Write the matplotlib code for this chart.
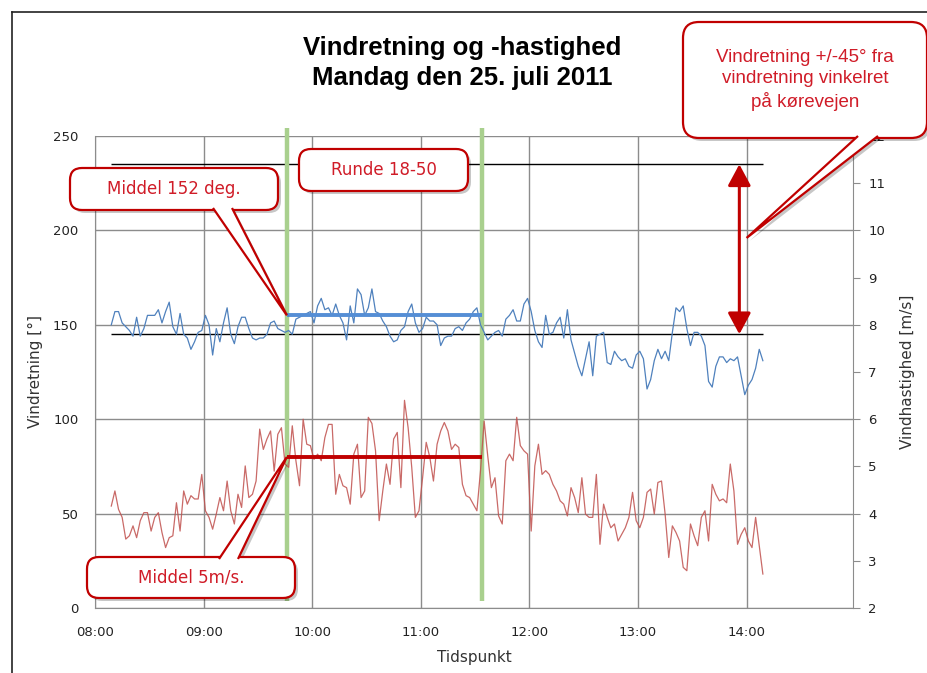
import numpy as np
import matplotlib.pyplot as plt
from matplotlib.patches import FancyBboxPatch, Polygon
from matplotlib.lines import Line2D
from matplotlib.transforms import IdentityTransform

# readings every second minute, 08:09 -> 14:09
t_start = 8 + 9 / 60.
t_step = 2 / 60.

# wind direction [deg] (left axis)
retning = [150, 157, 157, 151, 149, 147, 144, 154, 144, 148,
           155, 155, 155, 158, 151, 157, 162, 149, 145, 156,
           145, 143, 137, 141, 146, 147, 155, 150, 134, 148,
           141, 151, 159, 145, 140, 149, 154, 154, 148, 143,
           142, 143, 143, 145, 151, 152, 148, 147, 146, 147,
           145, 153, 154, 155, 156, 157, 151, 160, 164, 158,
           159, 155, 161, 155, 151, 142, 160, 151, 169, 166,
           155, 159, 169, 157, 156, 152, 149, 144, 141, 142,
           147, 149, 157, 161, 151, 146, 148, 154, 152, 152,
           150, 139, 143, 144, 144, 148, 149, 147, 151, 153,
           157, 159, 150, 146, 142, 144, 146, 147, 144, 153,
           155, 158, 152, 152, 161, 164, 157, 147, 141, 138,
           155, 145, 146, 151, 154, 143, 158, 142, 135, 128,
           123, 132, 141, 123, 144, 145, 146, 130, 129, 136,
           133, 131, 132, 128, 127, 134, 136, 132, 116, 121,
           131, 137, 132, 136, 131, 146, 159, 157, 160, 148,
           139, 146, 146, 144, 139, 120, 117, 128, 133, 133,
           130, 132, 131, 133, 123, 113, 118, 121, 127, 137,
           131]

# wind speed [m/s] (right axis)
hastighed = [4.16, 4.48, 4.09, 3.92, 3.46, 3.53, 3.74, 3.49, 3.85, 4.02,
             4.02, 3.63, 3.92, 4.02, 3.60, 3.28, 3.49, 3.53, 4.23, 3.63,
             4.48, 4.20, 4.38, 4.31, 4.31, 4.83, 4.06, 3.92, 3.67, 3.99,
             4.34, 4.06, 4.69, 4.06, 3.78, 4.41, 4.13, 5.01, 4.34, 4.41,
             4.69, 5.79, 5.36, 5.58, 5.75, 4.90, 5.68, 5.82, 5.05, 4.98,
             5.86, 5.12, 4.59, 6.00, 5.47, 5.44, 5.15, 5.26, 5.12, 5.61,
             5.89, 5.89, 4.41, 4.83, 4.59, 4.55, 4.20, 5.26, 5.47, 4.34,
             4.48, 6.04, 5.91, 5.33, 3.85, 4.48, 5.05, 4.62, 5.58, 5.72,
             4.55, 6.40, 5.82, 4.98, 3.92, 4.06, 4.76, 5.51, 5.19, 4.69,
             5.47, 5.75, 5.93, 5.75, 5.36, 5.47, 5.40, 4.62, 4.38, 4.34,
             4.20, 4.06, 4.91, 5.96, 5.22, 4.55, 4.76, 3.95, 3.78, 5.12,
             5.26, 5.12, 6.04, 5.44, 5.33, 5.26, 3.63, 5.01, 5.47, 4.83,
             4.91, 4.83, 4.62, 4.48, 4.27, 4.20, 3.95, 4.55, 4.34, 4.02,
             4.76, 3.99, 3.92, 3.92, 4.83, 3.35, 4.20, 3.92, 3.70, 3.78,
             3.42, 3.56, 3.70, 3.92, 4.45, 3.85, 3.70, 3.92, 4.45, 4.52,
             3.99, 4.66, 4.69, 3.99, 3.07, 3.74, 3.60, 3.42, 2.86, 2.79,
             3.78, 3.53, 3.32, 3.92, 4.06, 3.42, 4.62, 4.41, 4.27, 4.31,
             4.23, 5.05, 4.48, 3.35, 3.56, 3.70, 3.42, 3.28, 3.92, 3.32,
             2.72]

tid = t_start + t_step * np.arange(len(retning))

runde = [9 + 46 / 60., 11 + 34 / 60.]     # round 18-50 start/end
middel_retning = 155                      # drawn mean level
middel_hast = 5.2
graense = [145, 235]                      # +/-45 deg band
pil_tid = 13 + 56 / 60.
kald_tid, kald_vaerdi = 14.0, 196

RED = '#C00000'
TXT_RED = '#D01C28'
GRID = '#8C8C8C'
W, H = 928, 673

fig = plt.figure(figsize=(W / 100, H / 100), dpi=100)
ax = fig.add_axes([95 / W, (H - 608) / H, 758 / W, 472 / H])
ax2 = ax.twinx()

ax.set_xlim(8, 14.98)
ax.set_ylim(0, 250)
ax2.set_ylim(2, 12)

ax.set_xticks(range(8, 15))
ax.set_xticklabels(['%02d:00' % h for h in range(8, 15)])
ax.set_yticks(range(0, 251, 50))
ax2.set_yticks(range(2, 13))

ax.grid(True, color=GRID, lw=1.0)
ax.set_axisbelow(True)
for s in ['top', 'right']:
    ax.spines[s].set_visible(False)
for s in ['top', 'left', 'bottom']:
    ax2.spines[s].set_visible(False)
ax.spines['left'].set_color(GRID)
ax.spines['bottom'].set_color(GRID)
ax2.spines['right'].set_color(GRID)

ax.tick_params(axis='both', length=0, labelsize=9.5, labelcolor='#222222')
ax.tick_params(axis='x', pad=13)
ax.tick_params(axis='y', pad=12)
ax2.tick_params(axis='y', length=5, color=GRID, pad=6, labelsize=9.5, labelcolor='#222222')

ax.set_xlabel('Tidspunkt', fontsize=11, color='#333333')
ax.set_ylabel('Vindretning [°]', fontsize=11, color='#333333')
ax2.set_ylabel('Vindhastighed [m/s]', fontsize=11, color='#333333')
ax.xaxis.set_label_coords(0.5, -0.088)
ax.yaxis.set_label_coords(-0.068, 0.5)
ax2.yaxis.set_label_coords(1.062, 0.5)

# reference lines, round markers and series
ax.hlines(graense, tid[0], tid[-1], color='black', lw=1.0, zorder=2)
ax.vlines(runde, 3.7, 254, color='#A9D08E', lw=3.2, clip_on=False, zorder=3)
ax.plot(tid, retning, color='#4F81BD', lw=0.9, zorder=4)
ax.plot(runde, [middel_retning] * 2, color='#558ED5', lw=2.8, zorder=5, solid_capstyle='butt')
ax2.plot(tid, hastighed, color='#C0504D', lw=0.9, alpha=0.85, zorder=4)
ax2.plot(runde, [middel_hast] * 2, color=RED, lw=2.8, zorder=5, solid_capstyle='butt')

ax.annotate('', xy=(pil_tid, graense[1]), xytext=(pil_tid, graense[0]),
            arrowprops=dict(arrowstyle='<|-|>,head_length=0.65,head_width=0.35',
                            color=RED, lw=2.2, shrinkA=0, shrinkB=0, mutation_scale=20),
            zorder=6)

# title
fig.text(0.498, 1 - 63 / H, 'Vindretning og -hastighed\nMandag den 25. juli 2011',
         ha='center', va='center', fontsize=18.5, fontweight='bold',
         family='Liberation Sans', linespacing=1.3)

# chart frame
fig.add_artist(Line2D([12, W], [H - 12, H - 12], transform=IdentityTransform(), color='#222222', lw=1.2))
fig.add_artist(Line2D([12, 12], [0, H - 12], transform=IdentityTransform(), color='#222222', lw=1.2))


def callout(box, text, tip=None, base=None, fs=12, family='DejaVu Sans', rs=12, ls=1.2):
    # box in pixels from the top-left corner, tip in data coords of ax
    x0, y0, x1, y1 = box
    X0, Y0 = x0, H - y1
    bw, bh = x1 - x0, y1 - y0
    tr = IdentityTransform()
    wedge = None
    if tip is not None:
        tx, ty = ax.transData.transform(tip)
        xa, xb, yb = base
        inset = 2 if yb > (y0 + y1) / 2 else -2
        Yb = H - yb + inset
        wedge = [(xa, Yb), (tx, ty), (xb, Yb)]
    # shadow
    fig.add_artist(FancyBboxPatch((X0 + 3, Y0 - 3), bw, bh, boxstyle='round,pad=0,rounding_size=%d' % rs,
                                  transform=tr, fc=(0, 0, 0, 0.22), ec='none', zorder=20))
    if wedge is not None:
        fig.add_artist(Polygon([(x + 3, y - 3) for x, y in wedge], closed=True, transform=tr,
                               fc=(0, 0, 0, 0.22), ec='none', zorder=20))
    fig.add_artist(FancyBboxPatch((X0, Y0), bw, bh, boxstyle='round,pad=0,rounding_size=%d' % rs,
                                  transform=tr, fc='white', ec=RED, lw=1.6, zorder=21))
    if wedge is not None:
        fig.add_artist(Polygon(wedge, closed=False, transform=tr, fc='white', ec=RED, lw=1.6,
                               joinstyle='miter', zorder=22))
    fig.text((x0 + x1) / 2 / W, 1 - (y0 + y1) / 2 / H, text, ha='center', va='center',
             fontsize=fs, color=TXT_RED, family=family, linespacing=ls, zorder=23)


callout((70, 168, 278, 210), 'Middel 152 deg.', tip=(runde[0], middel_retning), base=(213, 232, 210))
callout((299, 149, 468, 191), 'Runde 18-50')
hast_tip = ax.transData.inverted().transform(ax2.transData.transform((runde[0], middel_hast)))
callout((87, 557, 295, 598), 'Middel 5m/s.', tip=tuple(hast_tip), base=(219, 238, 557))
callout((683, 22, 927, 138), 'Vindretning +/-45° fra\nvindretning vinkelret\npå kørevejen',
        tip=(kald_tid, kald_vaerdi), base=(858, 878, 138), fs=13.5,
        family='Liberation Sans', rs=16, ls=1.3)

fig.savefig('out.png', dpi=100)
